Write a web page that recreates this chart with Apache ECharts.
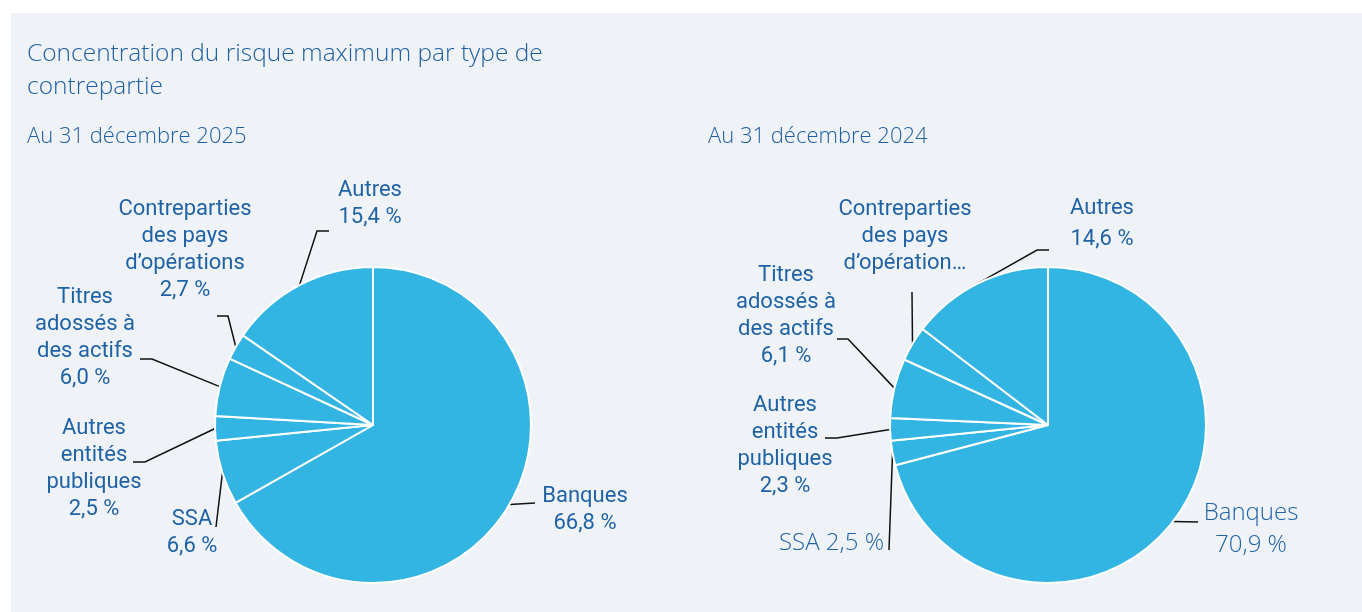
<!DOCTYPE html>
<html>
<head>
<meta charset="utf-8">
<title>Concentration du risque maximum par type de contrepartie</title>
<script src="https://cdn.jsdelivr.net/npm/echarts@6/dist/echarts.min.js"></script>
<style>
html, body { margin: 0; padding: 0; background: #ffffff; }
#panel { position: absolute; left: 11px; top: 13px; width: 1351px; height: 599px; background: #eff3f8; }
#main { position: absolute; left: 0; top: 0; width: 1362px; height: 612px; }
</style>
</head>
<body>
<div id="panel"></div>
<div id="main"></div>
<script>
// données, dans l'ordre horaire depuis midi
const categories = ['Banques', 'SSA', 'Autres entités publiques', 'Titres adossés à des actifs', 'Contreparties des pays d’opérations', 'Autres'];
const values2025 = [66.8, 6.6, 2.5, 6.0, 2.7, 15.4];
const values2024 = [70.9, 2.5, 2.3, 6.1, 3.6, 14.6];
const labels2025 = ['Banques', 'SSA', 'Autres\nentités\npubliques', 'Titres\nadossés à\ndes actifs', 'Contreparties\ndes pays\nd’opérations', 'Autres'];
const labels2024 = ['Banques', 'SSA', 'Autres\nentités\npubliques', 'Titres\nadossés à\ndes actifs', 'Contreparties\ndes pays\nd’opération…', 'Autres'];

const blue = '#33b5e3';
const textBlue = '#1f63a6';

// placement des étiquettes et des traits de rappel
const place2025 = [
    { x: 585, y: 510, line: [[535, 503]] },
    { x: 192, y: 533, line: [[216, 527]] },
    { x: 94, y: 469, line: [[145, 462], [133, 462]] },
    { x: 85, y: 338, line: [[152, 359], [140, 359]] },
    { x: 185, y: 250, line: [[228, 316], [217, 316]] },
    { x: 370, y: 204, line: [[317, 231], [329, 231]] }
];
const place2024 = [
    { x: 1251, y: 529, line: [[1198, 522]] },
    { x: 884, y: 543, align: 'right', line: [[889, 550]] },
    { x: 785, y: 446, line: [[837, 438], [825, 438]] },
    { x: 786, y: 316, line: [[848, 339], [837, 339]] },
    { x: 905, y: 236, line: [[912, 292]] },
    { x: 1102, y: 224, line: [[1037, 250], [1049, 250]] }
];

function pct(v) {
    return v.toFixed(1).replace('.', ',') + ' %';
}

const lightLabel = { fontFamily: 'Open Sans', fontWeight: 300, fontSize: 24, lineHeight: 32 };

function buildData(values, year) {
    return categories.map(function (name, i) {
        const item = { name: name, value: values[i] };
        if (year === 2024 && (i === 0 || i === 1)) item.label = lightLabel;
        if (year === 2024 && i === 5) item.label = { lineHeight: 31 };
        return item;
    });
}

function makeSeries(values, labels, place, year, cx) {
    return {
        type: 'pie',
        center: [cx, 425],
        radius: 158,
        startAngle: 90,
        clockwise: true,
        silent: true,
        data: buildData(values, year),
        itemStyle: { color: blue, borderColor: '#ffffff', borderWidth: 2 },
        label: {
            show: true,
            color: textBlue,
            fontFamily: 'Roboto',
            fontSize: 22,
            lineHeight: 27,
            formatter: function (p) {
                const t = labels[p.dataIndex];
                if (year === 2024 && p.dataIndex === 4) return t;
                if (year === 2024 && p.dataIndex === 1) return t + ' ' + pct(p.value);
                return t + '\n' + pct(p.value);
            }
        },
        labelLine: {
            show: true,
            length: 10,
            length2: 10,
            lineStyle: { color: '#111111', width: 1.5 }
        },
        labelLayout: function (p) {
            const pl = place[p.dataIndex];
            const start = p.labelLinePoints ? p.labelLinePoints[0] : null;
            const res = {
                x: pl.x,
                y: pl.y,
                align: pl.align || 'center',
                verticalAlign: 'middle'
            };
            if (start) res.labelLinePoints = [start].concat(pl.line);
            return res;
        }
    };
}

const titleStyle = { fontFamily: 'Open Sans', fontWeight: 300, color: '#1f5fa3' };

const chart = echarts.init(document.getElementById('main'));
chart.setOption({
    animation: false,
    title: [
        {
            text: 'Concentration du risque maximum par type de\ncontrepartie',
            left: 27, top: 38, padding: 0,
            textStyle: Object.assign({ fontSize: 24.5, lineHeight: 33 }, titleStyle)
        },
        {
            text: 'Au 31 décembre 2025',
            left: 27, top: 123, padding: 0,
            textStyle: Object.assign({ fontSize: 22, lineHeight: 28 }, titleStyle)
        },
        {
            text: 'Au 31 décembre 2024',
            left: 708, top: 123, padding: 0,
            textStyle: Object.assign({ fontSize: 22, lineHeight: 28 }, titleStyle)
        }
    ],
    series: [
        makeSeries(values2025, labels2025, place2025, 2025, 373),
        makeSeries(values2024, labels2024, place2024, 2024, 1048)
    ]
});
window.addEventListener('resize', function () {
    chart.resize();
});
</script>
</body>
</html>
